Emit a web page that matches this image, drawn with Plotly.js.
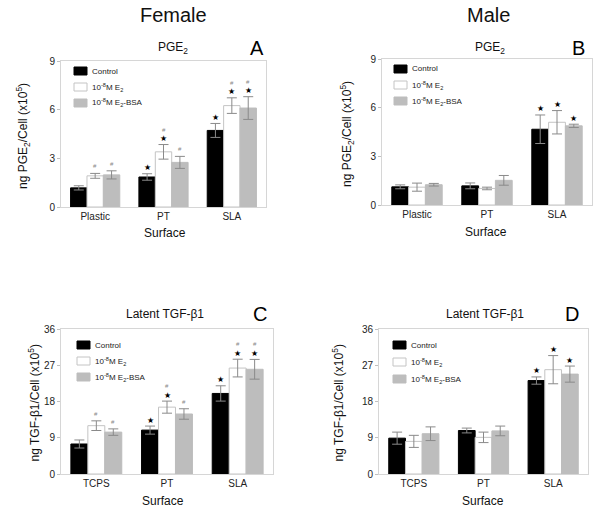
<!DOCTYPE html>
<html><head><meta charset="utf-8">
<script src="https://cdn.plot.ly/plotly-3.0.1.min.js"></script>
<style>html,body{margin:0;padding:0;background:#fff}#chart{width:600px;height:515px}</style>
</head><body><div id="chart"></div>
<script>
// ---- data ----
const catsPGE = ['Plastic', 'PT', 'SLA'];
const catsTGF = ['TCPS', 'PT', 'SLA'];
const seriesNames = ['Control', '10<sup>-8</sup>M E<sub>2</sub>', '10<sup>-8</sup>M E<sub>2</sub>-BSA'];

// Panel A: Female PGE2
const femPGE_ctrl = [1.18, 1.85, 4.72];
const femPGE_ctrl_err = [0.13, 0.2, 0.43];
const femPGE_e2 = [1.92, 3.4, 6.25];
const femPGE_e2_err = [0.15, 0.45, 0.48];
const femPGE_bsa = [1.98, 2.75, 6.1];
const femPGE_bsa_err = [0.25, 0.37, 0.7];
const femPGE_ctrl_sig = ['', '*', '*'];
const femPGE_e2_sig = ['#', '*#', '*#'];
const femPGE_bsa_sig = ['#', '#', '*#'];

// Panel B: Male PGE2
const malPGE_ctrl = [1.12, 1.18, 4.67];
const malPGE_ctrl_err = [0.12, 0.18, 0.88];
const malPGE_e2 = [1.1, 1.02, 5.1];
const malPGE_e2_err = [0.25, 0.08, 0.72];
const malPGE_bsa = [1.25, 1.52, 4.88];
const malPGE_bsa_err = [0.08, 0.3, 0.1];
const malPGE_ctrl_sig = ['', '', '*'];
const malPGE_e2_sig = ['', '', '*'];
const malPGE_bsa_sig = ['', '', '*'];

// Panel C: Female latent TGF-b1
const femTGF_ctrl = [7.45, 10.9, 20.0];
const femTGF_ctrl_err = [1.0, 1.0, 1.9];
const femTGF_e2 = [12.0, 16.6, 26.3];
const femTGF_e2_err = [1.2, 1.5, 2.2];
const femTGF_bsa = [10.4, 14.9, 26.0];
const femTGF_bsa_err = [0.8, 1.3, 2.45];
const femTGF_ctrl_sig = ['', '*', '*'];
const femTGF_e2_sig = ['#', '*#', '*#'];
const femTGF_bsa_sig = ['#', '#', '*#'];

// Panel D: Male latent TGF-b1
const malTGF_ctrl = [8.9, 10.8, 23.2];
const malTGF_ctrl_err = [1.5, 0.6, 0.9];
const malTGF_e2 = [8.1, 9.1, 25.9];
const malTGF_e2_err = [1.5, 1.3, 3.5];
const malTGF_bsa = [10.0, 10.7, 24.8];
const malTGF_bsa_err = [1.7, 1.2, 2.0];
const malTGF_ctrl_sig = ['', '', '*'];
const malTGF_e2_sig = ['', '', '*'];
const malTGF_bsa_sig = ['', '', '*'];

const yTicksPGE = [0, 3, 6, 9];
const yTicksTGF = [0, 9, 18, 27, 36];

// ---- layout helpers ----
const W = 600, H = 515;
const px = x => x / W, py = y => 1 - y / H;
const FONT = 'Liberation Sans, Arial, sans-serif';
const fills = ['#000000', '#ffffff', '#bdbdbd'];
const lines = ['#000000', '#c4c4c4', '#bdbdbd'];
const BARGAP = 0.28, BW = (1 - BARGAP) / 3;

const panels = [
  {ax: '', box: [61, 266, 61, 207], cats: catsPGE, ymax: 9, ticks: yTicksPGE,
   vals: [femPGE_ctrl, femPGE_e2, femPGE_bsa], errs: [femPGE_ctrl_err, femPGE_e2_err, femPGE_bsa_err],
   sig: [femPGE_ctrl_sig, femPGE_e2_sig, femPGE_bsa_sig],
   title: 'PGE<sub>2</sub>', letter: 'A', ytitle: 'ng PGE<sub>2</sub>/Cell (x10<sup>5</sup>)',
   tPos: [173, 48], lPos: [257, 48], yt: 23, xt: [165, 233], legY: [71, 87, 103], legX: 74},
  {ax: '2', box: [382, 592, 59, 205], cats: catsPGE, ymax: 9, ticks: yTicksPGE,
   vals: [malPGE_ctrl, malPGE_e2, malPGE_bsa], errs: [malPGE_ctrl_err, malPGE_e2_err, malPGE_bsa_err],
   sig: [malPGE_ctrl_sig, malPGE_e2_sig, malPGE_bsa_sig],
   title: 'PGE<sub>2</sub>', letter: 'B', ytitle: 'ng PGE<sub>2</sub>/Cell (x10<sup>5</sup>)',
   tPos: [490, 48], lPos: [578, 48], yt: 347, xt: [486, 232], legY: [69, 85, 101], legX: 394},
  {ax: '3', box: [61, 273, 329, 474], cats: catsTGF, ymax: 36, ticks: yTicksTGF,
   vals: [femTGF_ctrl, femTGF_e2, femTGF_bsa], errs: [femTGF_ctrl_err, femTGF_e2_err, femTGF_bsa_err],
   sig: [femTGF_ctrl_sig, femTGF_e2_sig, femTGF_bsa_sig],
   title: 'Latent TGF-β1', letter: 'C', ytitle: 'ng TGF-β1/Cell (x10<sup>5</sup>)',
   tPos: [165, 314], lPos: [260, 314], yt: 33, xt: [163, 501], legY: [345, 361, 377], legX: 77},
  {ax: '4', box: [379, 588, 329, 474], cats: catsTGF, ymax: 36, ticks: yTicksTGF,
   vals: [malTGF_ctrl, malTGF_e2, malTGF_bsa], errs: [malTGF_ctrl_err, malTGF_e2_err, malTGF_bsa_err],
   sig: [malTGF_ctrl_sig, malTGF_e2_sig, malTGF_bsa_sig],
   title: 'Latent TGF-β1', letter: 'D', ytitle: 'ng TGF-β1/Cell (x10<sup>5</sup>)',
   tPos: [485, 314], lPos: [572, 314], yt: 337, xt: [483, 501], legY: [345, 362, 379], legX: 393}
];

const traces = [], annotations = [], shapes = [];
const layout = {
  width: W, height: H, margin: {l: 0, r: 0, t: 0, b: 0},
  paper_bgcolor: '#fff', plot_bgcolor: '#fff', showlegend: false,
  barmode: 'group', bargap: BARGAP, bargroupgap: 0,
  font: {family: FONT, color: '#222'}, annotations, shapes
};

annotations.push({xref: 'paper', yref: 'paper', x: px(173), y: py(15), text: 'Female', showarrow: false,
  font: {size: 20, color: '#111'}, xanchor: 'center', yanchor: 'middle'});
annotations.push({xref: 'paper', yref: 'paper', x: px(488), y: py(15), text: 'Male', showarrow: false,
  font: {size: 20, color: '#111'}, xanchor: 'center', yanchor: 'middle'});

panels.forEach(p => {
  const xa = 'x' + p.ax, ya = 'y' + p.ax;
  const idx = p.cats.map((c, i) => i);
  p.vals.forEach((v, j) => {
    traces.push({type: 'bar', x: idx, y: v, xaxis: xa, yaxis: ya, name: seriesNames[j],
      marker: {color: fills[j], line: {color: lines[j], width: 1}},
      error_y: {type: 'data', array: p.errs[j], visible: true, color: '#8a8a8a', thickness: 1, width: 5},
      hoverinfo: 'none'});
    v.forEach((val, i) => {
      const s = p.sig[j][i];
      const xpos = i + (j - 1) * BW;
      const ytop = val + p.errs[j][i];
      if (s.includes('*')) {
        annotations.push({xref: xa, yref: ya, x: xpos, y: ytop, yshift: 6, text: '★', showarrow: false,
          font: {size: 8, color: '#000', family: 'DejaVu Sans'}, xanchor: 'center', yanchor: 'middle'});
      }
      if (s.includes('#')) {
        annotations.push({xref: xa, yref: ya, x: xpos, y: ytop, yshift: s.includes('*') ? 15 : 7, text: '#', showarrow: false,
          font: {size: 6, color: '#888'}, xanchor: 'center', yanchor: 'middle'});
      }
    });
  });
  const [x0, x1, y0, y1] = p.box;
  layout['xaxis' + p.ax] = {domain: [px(x0), px(x1)], anchor: ya, range: [-0.5, 2.5],
    tickvals: [0, 1, 2], ticktext: p.cats, ticks: '', showgrid: false, zeroline: false,
    showline: true, mirror: true, linecolor: '#d6d6d6', linewidth: 1,
    tickfont: {size: 10, color: '#222'}, fixedrange: true};
  layout['yaxis' + p.ax] = {domain: [py(y1), py(y0)], anchor: xa, range: [0, p.ymax],
    tickvals: p.ticks, ticks: 'outside', ticklen: 3, tickcolor: '#c0c0c0', showgrid: false, zeroline: false,
    showline: true, mirror: true, linecolor: '#d6d6d6', linewidth: 1,
    tickfont: {size: 10, color: '#222'}, fixedrange: true};
  // titles
  annotations.push({xref: 'paper', yref: 'paper', x: px(p.tPos[0]), y: py(p.tPos[1]), text: p.title, showarrow: false,
    font: {size: 12, color: '#111'}, xanchor: 'center', yanchor: 'middle'});
  annotations.push({xref: 'paper', yref: 'paper', x: px(p.lPos[0]), y: py(p.lPos[1]), text: p.letter, showarrow: false,
    font: {size: 20, color: '#000'}, xanchor: 'center', yanchor: 'middle'});
  annotations.push({xref: 'paper', yref: 'paper', x: px(p.yt), y: py((y0 + y1) / 2 + 2), text: p.ytitle, showarrow: false,
    textangle: -90, font: {size: 12, color: '#111'}, xanchor: 'center', yanchor: 'middle'});
  annotations.push({xref: 'paper', yref: 'paper', x: px(p.xt[0]), y: py(p.xt[1]), text: 'Surface', showarrow: false,
    font: {size: 12, color: '#111'}, xanchor: 'center', yanchor: 'middle'});
  // legend
  seriesNames.forEach((nm, j) => {
    const cy = p.legY[j];
    shapes.push({type: 'rect', xref: 'paper', yref: 'paper', x0: px(p.legX), x1: px(p.legX + 13),
      y0: py(cy + 4), y1: py(cy - 4), fillcolor: fills[j], line: {color: lines[j], width: 1}});
    annotations.push({xref: 'paper', yref: 'paper', x: px(p.legX + 16), y: py(cy), text: nm, showarrow: false,
      font: {size: 8, color: '#222'}, xanchor: 'left', yanchor: 'middle'});
  });
});

Plotly.newPlot('chart', traces, layout, {displayModeBar: false, staticPlot: true});
</script></body></html>
